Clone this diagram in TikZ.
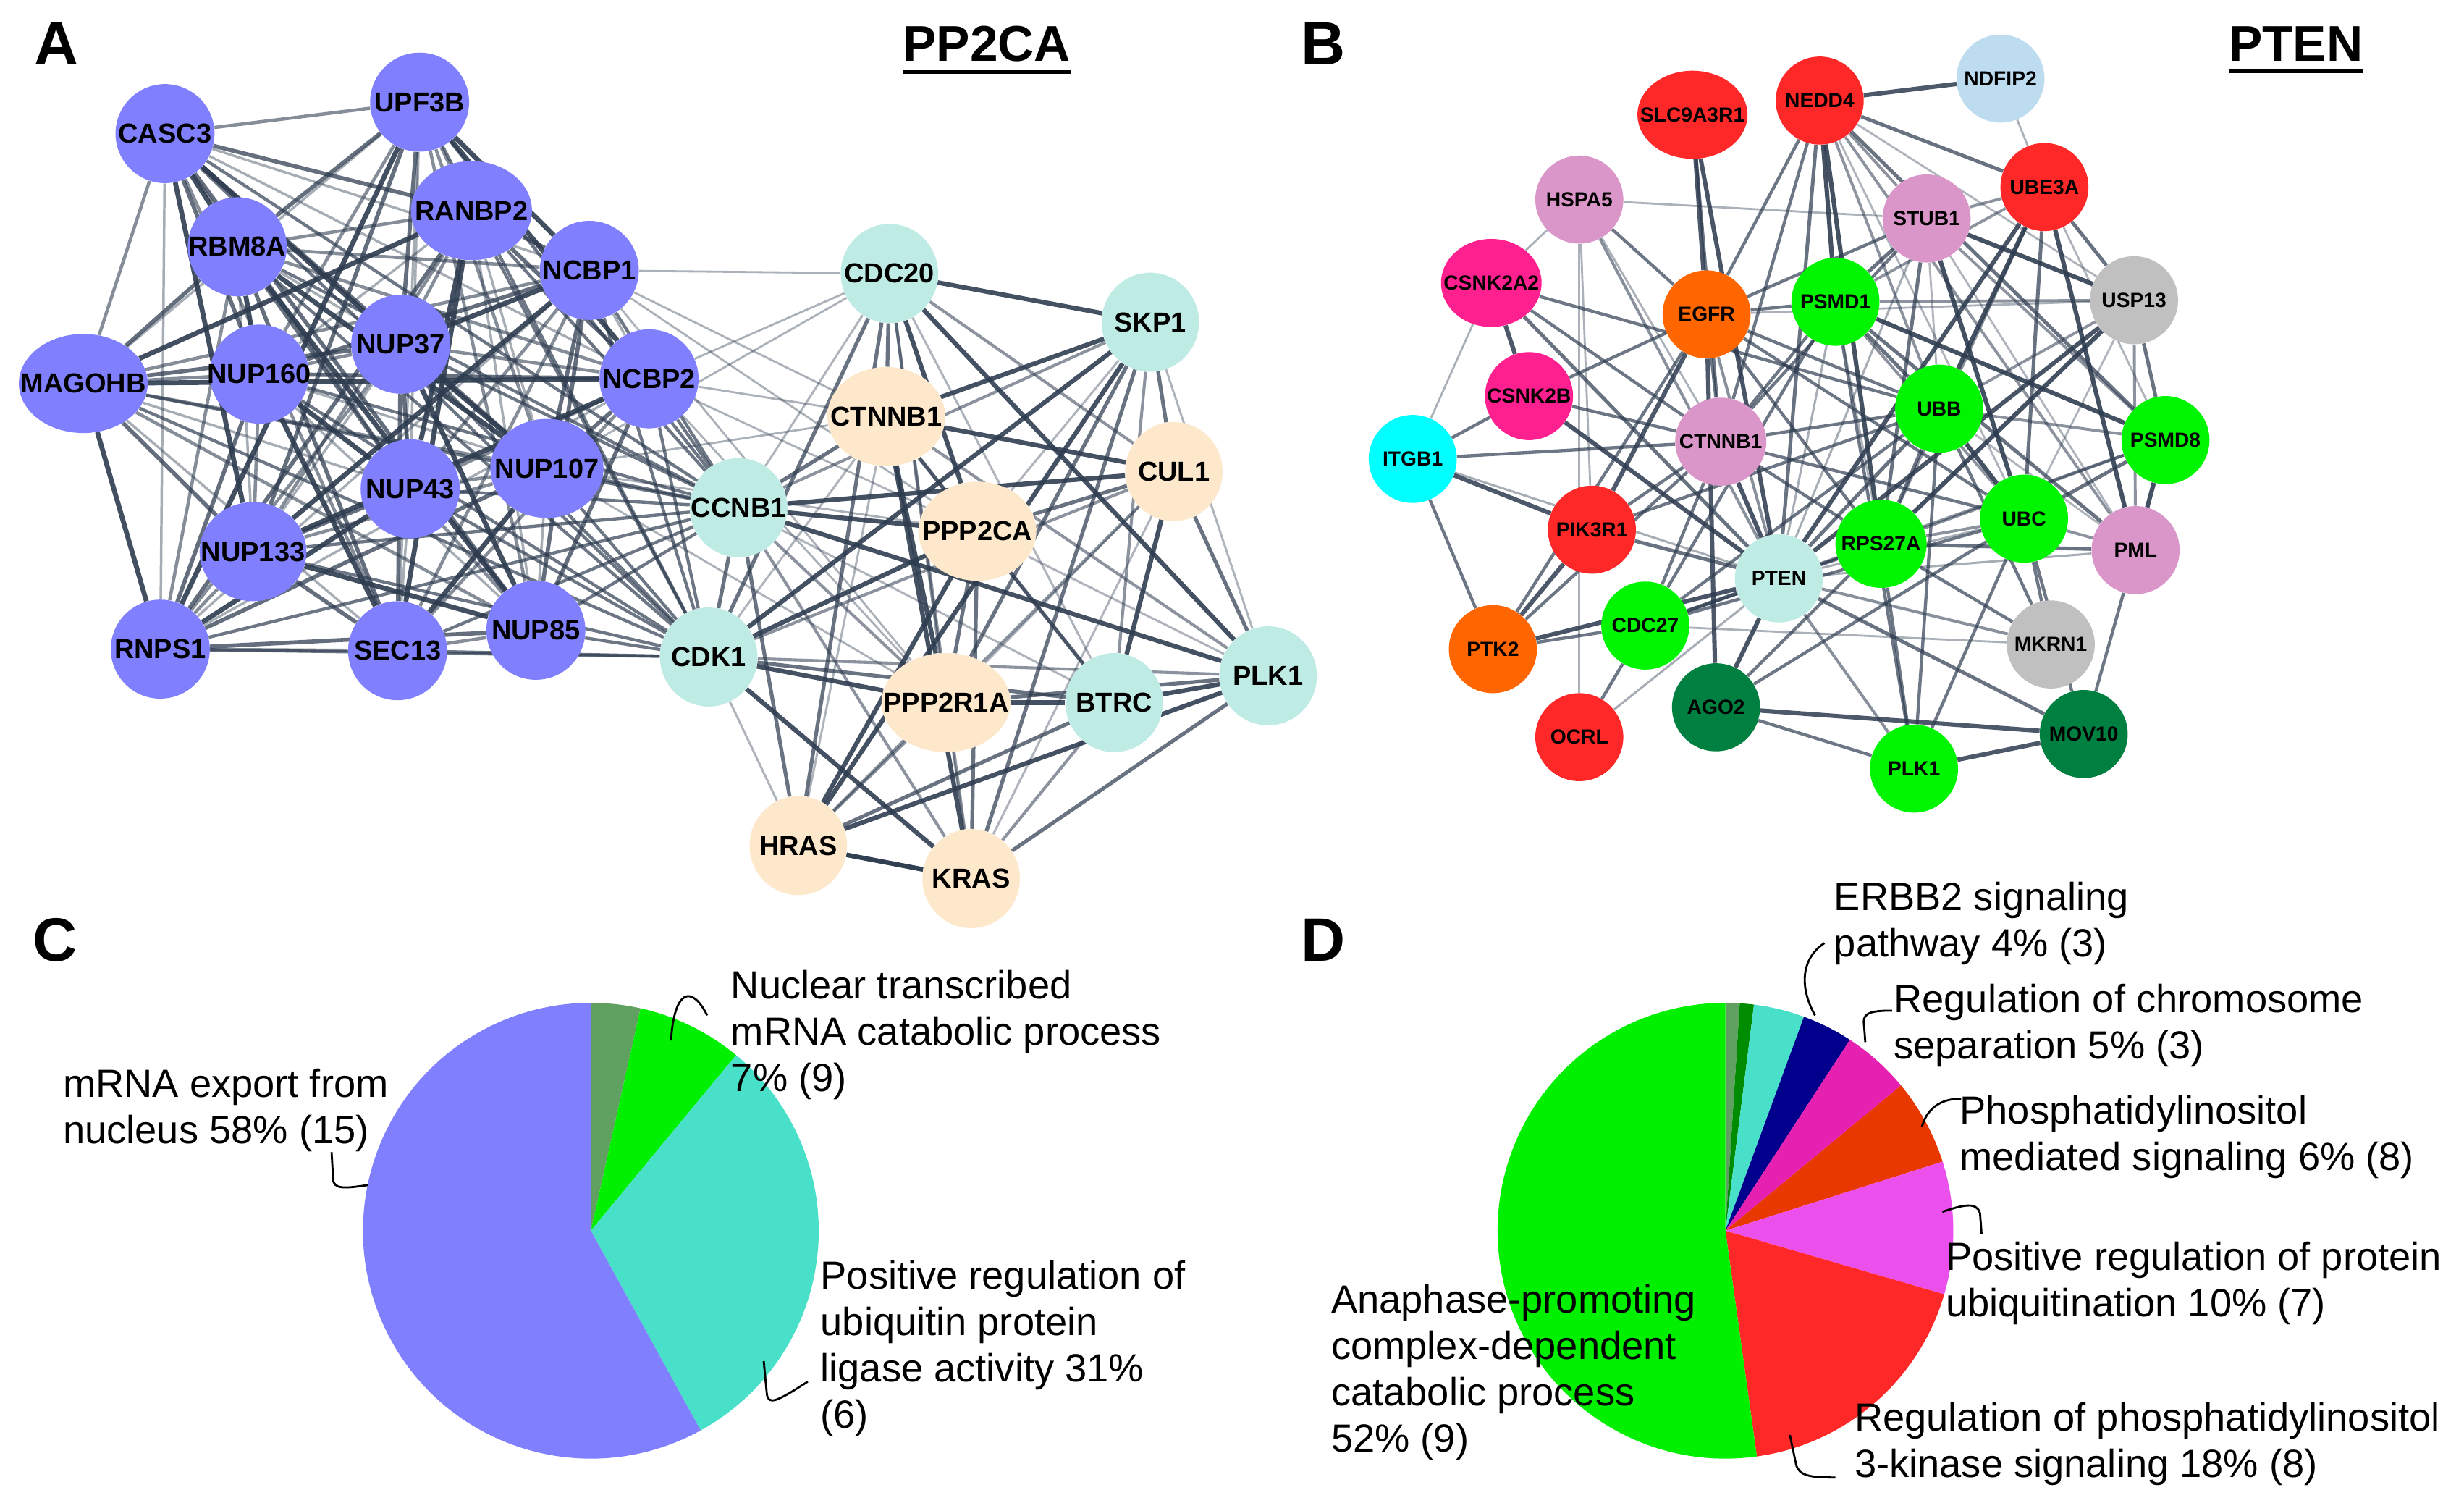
\documentclass[tikz,border=0pt]{standalone}
\usepackage{fontspec}
\setmainfont{Liberation Sans}
\usetikzlibrary{shapes.geometric,backgrounds}

% network colours
\definecolor{edgec}{RGB}{46,60,80}
\definecolor{purp}{RGB}{128,128,255}
\definecolor{aqua}{RGB}{190,236,228}
\definecolor{peach}{RGB}{253,232,204}
\definecolor{netred}{RGB}{255,40,40}
\definecolor{lilac}{RGB}{218,150,200}
\definecolor{hotpink}{RGB}{255,32,144}
\definecolor{netorange}{RGB}{255,102,0}
\definecolor{lime}{RGB}{0,245,0}
\definecolor{dkgreen}{RGB}{0,128,64}
\definecolor{silver}{RGB}{192,192,192}
\definecolor{cyanB}{RGB}{0,255,255}
\definecolor{skyB}{RGB}{190,220,240}
% pie colours
\definecolor{sage}{RGB}{96,160,96}
\definecolor{pgreen}{RGB}{0,240,0}
\definecolor{dgreenp}{RGB}{0,140,0}
\definecolor{turq}{RGB}{72,224,200}
\definecolor{ppurp}{RGB}{128,128,255}
\definecolor{navyp}{RGB}{0,0,140}
\definecolor{magpink}{RGB}{230,32,176}
\definecolor{redor}{RGB}{232,56,0}
\definecolor{pviolet}{RGB}{236,80,236}
\definecolor{pred}{RGB}{255,40,40}

\tikzset{
  gene/.style={ellipse, fill=#1, inner sep=0pt, minimum height=63,
    execute at begin node={\hbox to 0pt\bgroup\hss},
    execute at end node={\hss\egroup}},
  geneA/.style={gene=#1, font=\fontsize{17.5}{20}\selectfont\bfseries},
  geneB/.style={gene=#1, minimum height=56, font=\fontsize{13}{15}\selectfont\bfseries},
  strong/.style={draw=edgec, line width=2.8, opacity=0.85},
  link/.style={draw=edgec, line width=2.0, opacity=0.7},
  faint/.style={draw=edgec, line width=1.3, opacity=0.4},
  panel/.style={font=\fontsize{39}{40}\selectfont\bfseries, inner sep=0pt},
  heading/.style={font=\fontsize{32}{34}\selectfont\bfseries, inner sep=0pt},
  golabel/.style={anchor=north west, align=left, inner sep=0pt,
    font=\fontsize{25}{29.5}\selectfont},
  leader/.style={draw=black, line width=1.3}
}

\def\purplist{casc3,upf3b,ranbp2,rbm8a,ncbp1,magohb,nup160,nup37,ncbp2,nup43,nup107,nup133,rnps1,sec13,nup85}
\def\rightlist{cdc20,skp1,ctnnbA,cul1,ccnb1,ppp2ca,cdk1,ppp2r1a,btrc,plkA,hras,kras}
\def\ublist{nedd4,stub1,ube3a,psmd1,usp13,ubb,psmd8,rps27a,ubc,pml}

\begin{document}
\begin{tikzpicture}[x=1pt, y=-1pt]
    \useasboundingbox (0,0) rectangle (1568,961);

    % panel letters and titles
    \node[panel] (labA) at (36,28) {A};
    \node[panel] (labB) at (842,28) {B};
    \node[panel] (labC) at (35,598) {C};
    \node[panel] (labD) at (842,598) {D};
    \node[heading] (ttlA) at (628,28) {PP2CA};
    \node[heading] (ttlB) at (1461,28) {PTEN};
    \draw[line width=3] ([yshift=-6]ttlA.south west) -- ([yshift=-6]ttlA.south east);
    \draw[line width=3] ([yshift=-6]ttlB.south west) -- ([yshift=-6]ttlB.south east);

    % network A
    \foreach \n/\x/\y/\w/\c/\t in {
        casc3/105/85/63/purp/CASC3, upf3b/267/65/63/purp/UPF3B,
        ranbp2/300/134/77/purp/RANBP2, rbm8a/151/157/63/purp/RBM8A,
        ncbp1/375/172/63/purp/NCBP1, magohb/53/244/82/purp/MAGOHB,
        nup160/165/238/63/purp/NUP160, nup37/255/219/63/purp/NUP37,
        ncbp2/413/241/63/purp/NCBP2, nup43/261/311/63/purp/NUP43,
        nup107/348/298/72/purp/NUP107, nup133/161/351/68/purp/NUP133,
        rnps1/102/413/63/purp/RNPS1, sec13/253/414/63/purp/SEC13,
        nup85/341/401/63/purp/NUP85,
        ccnb1/470/323/62/aqua/CCNB1, cdk1/451/418/62/aqua/CDK1,
        cdc20/566/174/62/aqua/CDC20, skp1/732/205/62/aqua/SKP1,
        ctnnbA/564/265/75/peach/CTNNB1, cul1/747/300/62/peach/CUL1,
        ppp2ca/622/338/75/peach/PPP2CA, ppp2r1a/602/447/82/peach/PPP2R1A,
        btrc/709/447/62/aqua/BTRC, plkA/807/430/62/aqua/PLK1,
        hras/508/538/62/peach/HRAS, kras/618/559/62/peach/KRAS}
        \node[geneA=\c, minimum width=\w] (\n) at (\x,\y) {\t};

    % network B
    \foreach \n/\x/\y/\w/\c/\t in {
        slc/1077/73/70/netred/SLC9A3R1, nedd4/1158/64/56/netred/NEDD4,
        ndfip2/1273/50/56/skyB/NDFIP2, hspa5/1005/127/56/lilac/HSPA5,
        stub1/1226/139/56/lilac/STUB1, ube3a/1301/119/56/netred/UBE3A,
        csnk2a2/949/180/64/hotpink/CSNK2A2, egfr/1086/200/56/netorange/EGFR,
        psmd1/1168/192/56/lime/PSMD1, usp13/1358/191/56/silver/USP13,
        csnk2b/973/252/56/hotpink/CSNK2B, ubb/1234/260/56/lime/UBB,
        psmd8/1378/280/56/lime/PSMD8, itgb1/899/292/56/cyanB/ITGB1,
        ctnnbB/1095/281/58/lilac/CTNNB1, pik3r1/1013/337/56/netred/PIK3R1,
        rps27a/1197/346/58/lime/RPS27A, ubc/1288/330/56/lime/UBC,
        pml/1359/350/56/lilac/PML, pten/1132/368/56/aqua/PTEN,
        cdc27/1047/398/56/lime/CDC27, ptk2/950/413/56/netorange/PTK2,
        mkrn1/1305/410/56/silver/MKRN1, ocrl/1005/469/56/netred/OCRL,
        ago2/1092/450/56/dkgreen/AGO2, mov10/1326/467/56/dkgreen/MOV10,
        plkB/1218/489/56/lime/PLK1}
        \node[geneB=\c, minimum width=\w] (\n) at (\x,\y) {\t};

    \begin{scope}[on background layer]
        \fill[white] (0,0) rectangle (1568,961);
        % dense clusters
        \foreach \a [count=\i] in \purplist
            \foreach \b [count=\j] in \purplist
            {
                \ifnum\j>\i
                    \pgfmathtruncatemacro\k{mod(\i*7+\j*5,4)}
                    \pgfmathsetmacro\op{0.42+0.16*\k}
                    \draw[link, opacity=\op, line width={1.6+0.5*\k}] (\a) -- (\b);
                \fi
            }
        \foreach \a [count=\i] in \rightlist
            \foreach \b [count=\j] in \rightlist
            {
                \ifnum\j>\i
                    \pgfmathtruncatemacro\k{mod(\i*5+\j*3,4)}
                    \pgfmathsetmacro\op{0.38+0.17*\k}
                    \draw[link, opacity=\op, line width={1.4+0.5*\k}] (\a) -- (\b);
                \fi
            }
        \foreach \a in \purplist
        {
            \draw[link] (\a) -- (ccnb1);
            \draw[link] (\a) -- (cdk1);
        }
        \foreach \a in {ncbp1,ncbp2,nup107}
            \foreach \b in {cdc20,ctnnbA,ppp2ca,ppp2r1a}
                \draw[faint] (\a) -- (\b);
        \draw[strong] (hras) -- (kras);

        % PTEN network
        \foreach \b [count=\i] in {slc,nedd4,hspa5,stub1,ube3a,csnk2a2,egfr,psmd1,csnk2b,ubb,psmd8,itgb1,ctnnbB,pik3r1,rps27a,ubc,ptk2,cdc27,mkrn1,ocrl,ago2,mov10,plkB,pml,usp13}
        {
            \pgfmathtruncatemacro\k{mod(\i*3,4)}
            \pgfmathsetmacro\op{0.42+0.15*\k}
            \draw[link, opacity=\op, line width={1.4+0.45*\k}] (pten) -- (\b);
        }
        \foreach \a [count=\i] in \ublist
            \foreach \b [count=\j] in \ublist
            {
                \ifnum\j>\i
                    \pgfmathtruncatemacro\k{mod(\i*3+\j*5,4)}
                    \pgfmathsetmacro\op{0.38+0.17*\k}
                    \draw[link, opacity=\op, line width={1.3+0.5*\k}] (\a) -- (\b);
                \fi
            }
        \foreach \a/\b in {nedd4/ndfip2, slc/egfr, egfr/ago2, pik3r1/ptk2, csnk2a2/csnk2b,
            itgb1/pik3r1, egfr/pik3r1, plkB/mov10, ago2/mov10}
            \draw[strong] (\a) -- (\b);
        \foreach \a/\b in {nedd4/egfr, nedd4/ctnnbB, slc/ctnnbB, hspa5/egfr, csnk2a2/ctnnbB,
            csnk2b/egfr, csnk2b/itgb1, csnk2b/ctnnbB, itgb1/ctnnbB, itgb1/ptk2,
            pik3r1/ctnnbB, pik3r1/ubb, ptk2/egfr, ptk2/cdc27, ptk2/ctnnbB, ocrl/cdc27,
            egfr/ctnnbB, egfr/psmd1, egfr/ubb, egfr/ubc, egfr/rps27a, egfr/stub1,
            ctnnbB/ubb, ctnnbB/ubc, ctnnbB/rps27a, ctnnbB/psmd1, ctnnbB/stub1,
            ago2/plkB, ago2/rps27a, ago2/ubc, plkB/ubb, plkB/ubc, plkB/rps27a, plkB/psmd1,
            mkrn1/ubc, mkrn1/ubb, mkrn1/rps27a, mov10/pml, mov10/ubc, cdc27/ubc,
            cdc27/ubb, cdc27/rps27a, cdc27/psmd1, cdc27/ctnnbB, csnk2a2/ubb}
            \draw[link] (\a) -- (\b);
        \foreach \a/\b in {ndfip2/ube3a, hspa5/stub1, hspa5/ctnnbB, hspa5/csnk2a2, hspa5/ocrl,
            hspa5/pik3r1, csnk2a2/itgb1, cdc27/mkrn1, egfr/usp13}
            \draw[faint] (\a) -- (\b);
    \end{scope}

    % pie C
    \begin{scope}[shift={(376,783)}, yscale=-1]
        \foreach \from/\to/\col in {0/3.5/sage, 3.5/11/pgreen, 11/42/turq, 42/100/ppurp}
            \fill[\col] (0,0) -- ({90-3.6*\from}:145)
                arc[start angle={90-3.6*\from}, end angle={90-3.6*\to}, radius=145] -- cycle;
    \end{scope}
    % pie D
    \begin{scope}[shift={(1098,783)}, yscale=-1]
        \foreach \from/\to/\col in {0/1/sage, 1/2/dgreenp, 2/5.6/turq, 5.6/9.2/navyp,
            9.2/14/magpink, 14/20.1/redor, 20.1/29.5/pviolet, 29.5/47.8/pred, 47.8/100/pgreen}
            \fill[\col] (0,0) -- ({90-3.6*\from}:145)
                arc[start angle={90-3.6*\from}, end angle={90-3.6*\to}, radius=145] -- cycle;
    \end{scope}

    % pie labels
    \node[golabel] (nuc) at (465,617) {Nuclear transcribed\\mRNA catabolic process\\7\% (9)};
    \node[golabel] (export) at (40,680) {mRNA export from\\nucleus 58\% (15)};
    \node[golabel] (ligase) at (522,802) {Positive regulation of\\ubiquitin protein\\ligase activity 31\%\\(6)};
    \node[golabel] (erbb) at (1167,561) {ERBB2 signaling\\pathway 4\% (3)};
    \node[golabel] (chrom) at (1205,626) {Regulation of chromosome\\separation 5\% (3)};
    \node[golabel] (phos) at (1247,697) {Phosphatidylinositol\\mediated signaling 6\% (8)};
    \node[golabel] (ubiq) at (1238,790) {Positive regulation of protein\\ubiquitination 10\% (7)};
    \node[golabel] (kinase) at (1180,892) {Regulation of phosphatidylinositol\\3-kinase signaling 18\% (8)};
    \node[golabel] (apc) at (847,817) {Anaphase-promoting\\complex-dependent\\catabolic process\\52\% (9)};

    % leader lines
    \coordinate (nucP) at (427,662);
    \coordinate (exportP) at (234,754);
    \coordinate (ligaseP) at (486,866);
    \coordinate (erbbP) at (1155,646);
    \coordinate (chromP) at (1187,663);
    \coordinate (phosP) at (1223,717);
    \coordinate (ubiqP) at (1236,771);
    \coordinate (kinaseP) at (1139,913);
    \draw[leader] (nucP) .. controls (429,630) and (440,626) .. (450,646);
    \draw[leader] (211,733) -- (212,750) .. controls (212,757) and (220,756) .. (exportP);
    \draw[leader] (ligaseP) -- (488,887) .. controls (489,894) and (494,892) .. (514,879);
    \draw[leader] (erbbP) .. controls (1145,628) and (1146,610) .. (1161,600);
    \draw[leader] (chromP) -- (1186,650) .. controls (1186,644) and (1192,643) .. (1204,643);
    \draw[leader] (phosP) .. controls (1226,706) and (1234,699) .. (1248,699);
    \draw[leader] (ubiqP) .. controls (1248,767) and (1258,764) .. (1260,772) -- (1261,785);
    \draw[leader] (kinaseP) -- (1143,932) .. controls (1145,939) and (1152,940) .. (1168,940);
\end{tikzpicture}
\end{document}
